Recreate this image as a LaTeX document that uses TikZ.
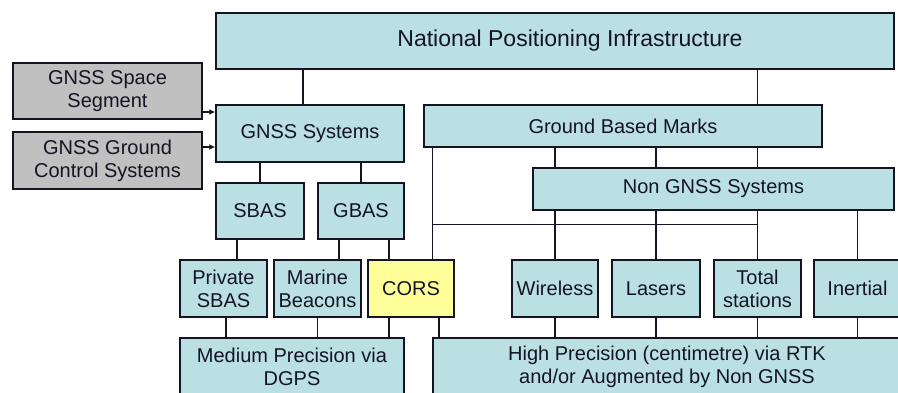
\documentclass[tikz,border=0pt]{standalone}
\usepackage{fontspec}
\setmainfont{Liberation Sans}
\usepackage{xcolor}
\usetikzlibrary{arrows.meta}
\definecolor{boxblue}{RGB}{187,224,228}
\definecolor{boxgrey}{RGB}{192,192,192}
\definecolor{boxyellow}{RGB}{255,255,153}
\definecolor{inkdark}{RGB}{20,20,35}
\tikzset{
  block/.style={rectangle, draw=inkdark, line width=1.5pt, fill=boxblue, align=center, inner sep=0pt,
    text=inkdark, font=\fontsize{20}{23}\selectfont},
  extblock/.style={block, fill=boxgrey},
  corsblock/.style={block, fill=boxyellow},
  link/.style={draw=inkdark, line width=1.3pt},
  line/.style={draw=inkdark, line width=1.3pt, -{Latex[length=6pt,width=6pt]}}
}
\begin{document}
\begin{tikzpicture}[x=1pt, y=-1pt]
  \useasboundingbox (0,0) rectangle (898,392);
  \clip (0,0) rectangle (898,392);
  % top level
  \node[block, minimum width=678pt, minimum height=56pt, font=\fontsize{23}{26}\selectfont] (npi) at (555,41) {\hspace*{30pt}National Positioning Infrastructure};
  \node[extblock, minimum width=189pt, minimum height=56pt] (space) at (107.5,91) {GNSS Space\\Segment};
  \node[extblock, minimum width=189pt, minimum height=57pt] (control) at (107.5,160.5) {GNSS Ground\\Control Systems};
  \node[block, minimum width=188pt, minimum height=57pt] (gnss) at (310,133.5) {GNSS Systems};
  \node[block, minimum width=398pt, minimum height=42pt] (marks) at (623,126) {Ground Based Marks};
  \node[block, minimum width=361pt, minimum height=42pt] (nongnss) at (713.5,189) {Non GNSS Systems};
  \node[block, minimum width=88pt, minimum height=56pt] (sbas) at (260,211) {SBAS};
  \node[block, minimum width=86pt, minimum height=56pt] (gbas) at (361,211) {GBAS};
  % devices
  \node[block, minimum width=87pt, minimum height=57pt] (private) at (223.5,288.5) {Private\\SBAS};
  \node[block, minimum width=87pt, minimum height=57pt] (marine) at (317.5,288.5) {Marine\\Beacons};
  \node[corsblock, minimum width=86pt, minimum height=57pt] (cors) at (411,288.5) {CORS};
  \node[block, minimum width=86pt, minimum height=57pt] (wireless) at (555,288.5) {Wireless};
  \node[block, minimum width=88pt, minimum height=57pt] (lasers) at (656,288.5) {Lasers};
  \node[block, minimum width=87pt, minimum height=57pt] (total) at (757.5,288.5) {Total\\stations};
  \node[block, minimum width=87pt, minimum height=57pt] (inertial) at (857.5,288.5) {Inertial};
  % outputs
  \node[block, minimum width=224pt, minimum height=57pt] (medium) at (292,366.5) {Medium Precision via\\DGPS};
  \node[block, minimum width=468pt, minimum height=57pt] (high) at (667,366.5) {High Precision (centimetre) via RTK\\and/or Augmented by Non GNSS};
  % inputs
  \draw[line] ([yshift=-21pt]space.east) -- ([yshift=-21pt]space.east -| gnss.west);
  \draw[line] ([yshift=13.5pt]control.east) -- ([yshift=13.5pt]control.east -| gnss.west);
  % tree
  \draw[link] ([xshift=-7pt]gnss.north) -- ([xshift=-7pt]gnss.north |- npi.south);
  \draw[link] (npi.south -| total.north) -- (marks.north -| total.north);
  \draw[link] (gnss.south -| sbas.north) -- (sbas.north);
  \draw[link] (gnss.south -| gbas.north) -- (gbas.north);
  \draw[link] ([xshift=-23pt]sbas.south) -- ([xshift=-23pt]sbas.south |- private.north);
  \draw[link] ([xshift=-22pt]gbas.south) -- ([xshift=-22pt]gbas.south |- marine.north);
  \draw[link] ([xshift=28pt]gbas.south) -- ([xshift=28pt]gbas.south |- cors.north);
  \draw[link] (marks.south -| high.west) -- (cors.north -| high.west);
  \draw[link] ([yshift=-77pt]marks.south -| high.west) -- ([yshift=-77pt]marks.south -| total.north);
  \foreach \dev in {wireless, lasers, total} {
    \draw[link] (marks.south -| \dev.north) -- (nongnss.north -| \dev.north);
  }
  \foreach \dev in {wireless, lasers, total, inertial} {
    \draw[link] (nongnss.south -| \dev.north) -- (\dev.north);
    \draw[link] (\dev.south) -- (high.north -| \dev.south);
  }
  \draw[link] ([xshift=2.5pt]private.south) -- ([xshift=2.5pt]private.south |- medium.north);
  \draw[link] (marine.south) -- (medium.north -| marine.south);
  \draw[link] ([xshift=-22pt]cors.south) -- ([xshift=-22pt]cors.south |- medium.north);
  \draw[link] ([xshift=28pt]cors.south) -- ([xshift=28pt]cors.south |- high.north);
\end{tikzpicture}
\end{document}
